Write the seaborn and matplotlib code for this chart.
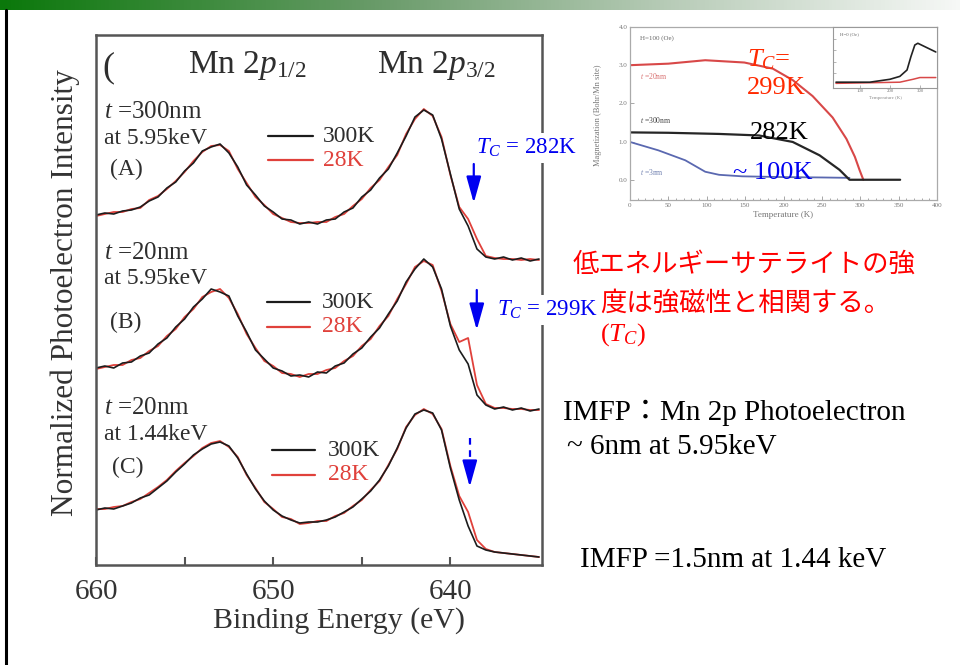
import numpy as np
import matplotlib
matplotlib.use("Agg")
import matplotlib.pyplot as plt
from matplotlib.colors import LinearSegmentedColormap
from matplotlib.lines import Line2D
import seaborn as sns

# ---- Mn 2p HAXPES spectra (binding energy in eV, intensity in arb. units incl. offsets)
energy = [660.0, 659.5, 659.0, 658.5, 658.0, 657.5, 657.0, 656.5, 656.0, 655.5,
          655.0, 654.5, 654.0, 653.5, 653.0, 652.5, 652.0, 651.5, 651.0, 650.5,
          650.0, 649.5, 649.0, 648.5, 648.0, 647.5, 647.0, 646.5, 646.0, 645.5,
          645.0, 644.5, 644.0, 643.5, 643.0, 642.5, 642.0, 641.5, 641.0, 640.5,
          640.0, 639.5, 639.0, 638.5, 638.0, 637.5, 637.0, 636.5, 636.0, 635.5,
          635.0]

a_300K = [350, 352, 351, 354, 355, 358, 364, 368, 377, 383, 394, 402, 414, 418, 421, 412, 398,
          380, 370, 359, 353, 346, 345, 341, 343, 341, 345, 346, 353, 357, 368, 375, 387, 396,
          412, 429, 448, 455, 450, 426, 391, 356, 339, 316, 308, 306, 308, 305, 307, 304, 306]
a_28K = [349, 351, 353, 353, 356, 357, 365, 369, 376, 384, 393, 404, 413, 419, 420, 414, 396,
         382, 368, 360, 351, 347, 343, 342, 342, 343, 343, 348, 351, 359, 366, 377, 385, 398,
         410, 431, 446, 456, 449, 428, 390, 358, 346, 326, 309, 307, 306, 306, 305, 306, 305]

b_300K = [197, 199, 197, 202, 203, 209, 212, 221, 227, 238, 246, 258, 266, 276, 273, 269, 249,
          233, 215, 206, 197, 194, 189, 190, 188, 193, 192, 199, 202, 211, 217, 228, 237, 251,
          264, 283, 296, 306, 298, 276, 239, 215, 201, 170, 160, 156, 158, 155, 157, 154, 156]
b_28K = [196, 198, 200, 200, 205, 207, 214, 219, 229, 236, 248, 256, 268, 273, 276, 267, 251,
         231, 217, 204, 199, 192, 191, 188, 191, 191, 195, 197, 204, 209, 219, 226, 239, 249,
         266, 281, 298, 304, 300, 274, 241, 223, 227, 180, 161, 157, 157, 156, 156, 155, 155]

c_300K = [55, 57, 56, 59, 62, 67, 70, 77, 84, 93, 101, 110, 116, 121, 123, 119, 107, 91, 76, 64,
          55, 49, 45, 42, 43, 43, 45, 48, 53, 58, 66, 74, 85, 99, 117, 137, 151, 155, 152, 135,
          97, 65, 39, 19, 15, 13, 12, 11, 10, 9, 8]
c_28K = [56, 56, 58, 59, 63, 66, 72, 78, 85, 94, 102, 109, 117, 122, 124, 118, 108, 90, 77, 63,
         56, 48, 46, 41, 42, 44, 44, 49, 52, 59, 65, 75, 84, 100, 116, 138, 150, 156, 151, 136,
         99, 69, 53, 25, 16, 13, 12, 11, 10, 9, 8]

panel_lines = [["$t$ =300nm", "at 5.95keV", "(A)"],
               ["$t$ =20nm", "at 5.95keV", "(B)"],
               ["$t$ =20nm", "at 1.44keV", "(C)"]]
legend_labels = ["300K", "28K"]
energy_ticks = [660, 650, 640]

# ---- magnetization vs temperature (inset)
t_20nm = [0, 50, 98, 149, 186, 212, 238, 264, 282, 293, 299, 304]
m_20nm = [3.0, 3.04, 3.13, 3.07, 2.91, 2.61, 2.19, 1.63, 1.07, 0.60, 0.26, 0.0]
t_300nm = [0, 50, 116, 168, 212, 247, 273, 286, 320, 352]
m_300nm = [1.24, 1.23, 1.20, 1.16, 0.99, 0.64, 0.26, 0.0, 0.0, 0.0]
t_3nm = [0, 37, 72, 98, 116, 146, 200, 250, 286]
m_3nm = [0.99, 0.77, 0.51, 0.21, 0.13, 0.09, 0.07, 0.06, 0.05]

# small zero-field panel
t_zf_black = [20, 133, 200, 233, 257, 270, 283, 293, 313, 333, 353]
v_zf_black = [0.05, 0.05, 0.10, 0.15, 0.26, 0.49, 0.69, 0.72, 0.67, 0.62, 0.57]
t_zf_red = [20, 233, 277, 300, 353]
v_zf_red = [0.03, 0.05, 0.10, 0.13, 0.13]

sns.set_theme(style="white")
plt.rcParams.update({
    "font.family": ["Liberation Serif", "Noto Sans CJK JP", "DejaVu Sans"],
    "mathtext.fontset": "custom",
    "mathtext.rm": "Liberation Serif",
    "mathtext.it": "Liberation Serif:italic",
    "mathtext.bf": "Liberation Serif:bold",
})

W, H = 960, 665
fig = plt.figure(figsize=(9.6, 6.65), dpi=100)
fig.patch.set_facecolor("white")


def fx(px):
    return px / W


def fy(py):
    return 1 - py / H


# header band
hdr = fig.add_axes([0, fy(10), 1, 10 / H])
hdr_cmap = LinearSegmentedColormap.from_list(
    "hdr", [(0.0, "#0b780b"), (0.4, "#6b9c6b"), (0.7, "#b8ccb8"), (1.0, "#f6f8f6")])
hdr.imshow(np.linspace(0, 1, 256)[None, :], aspect="auto", cmap=hdr_cmap, extent=[0, 1, 0, 1])
hdr.axis("off")
fig.add_artist(Line2D([fx(6), fx(6)], [0, fy(10)], color="black", lw=2.2,
                      transform=fig.transFigure))

# ---- main spectra axes
ax = fig.add_axes([fx(96), fy(565), fx(542) - fx(96), fy(35) - fy(565)])
ax.set_facecolor("white")
ax.set_xlim(660, 634.83)
ax.set_ylim(0, 530)

RED = "#e0413b"
BLK = "#1c1c1c"
for s300, s28 in [(a_300K, a_28K), (b_300K, b_28K), (c_300K, c_28K)]:
    sns.lineplot(x=energy, y=s28, ax=ax, color=RED, lw=1.3, errorbar=None)
    sns.lineplot(x=energy, y=s300, ax=ax, color=BLK, lw=1.2, errorbar=None)

ax.set_xticks(energy_ticks)
ax.set_xticklabels([str(v) for v in energy_ticks])
ax.set_xticks([655, 645], minor=True)
ax.set_yticks([])
ax.tick_params(axis="x", which="both", direction="in", length=6, width=1.5,
               color="#555555", labelsize=21, labelcolor="#333333", pad=10,
               bottom=True, top=False)
for sp in ax.spines.values():
    sp.set_linewidth(1.8)
    sp.set_color("#555555")


def ex(px):
    return 660 - (px - 96) / 17.73


def uy(py):
    return 565 - py


TXT = "#2e2e2e"
ax.text(ex(102), uy(76), "(", fontsize=26, color=TXT, va="baseline")
ax.text(ex(188), uy(73), "Mn 2$p_{1/2}$", fontsize=24, color=TXT, va="baseline")
ax.text(ex(377), uy(73), "Mn 2$p_{3/2}$", fontsize=24, color=TXT, va="baseline")

label_rows = [(112, 139, 169), (253, 279, 322), (408, 435, 467)]
label_x = [(104, 104, 110), (104, 104, 110), (104, 104, 112)]
for lines, rows, xs in zip(panel_lines, label_rows, label_x):
    for s, py, px in zip(lines, rows, xs):
        size = 18 if s.startswith("$t$") else 17
        ax.text(ex(px), uy(py), s, fontsize=size, color=TXT, va="center", ha="left")

legend_pos = [(268, 313, 136, 160, 323), (267, 310, 302, 327, 322), (272, 315, 450, 475, 328)]
for x0, x1, yb, yr, xt in legend_pos:
    ax.plot([ex(x0), ex(x1)], [uy(yb)] * 2, color=BLK, lw=1.6)
    ax.plot([ex(x0), ex(x1)], [uy(yr)] * 2, color=RED, lw=1.6)
    ax.text(ex(xt), uy(yb), legend_labels[0], fontsize=17, color=TXT, va="center")
    ax.text(ex(xt), uy(yr), legend_labels[1], fontsize=17, color=RED, va="center")

BLUE = "#0000f0"
head = dict(arrowstyle="-|>,head_length=1.15,head_width=0.32", color=BLUE, lw=1.6,
            mutation_scale=14, shrinkA=0, shrinkB=0)
ax.text(ex(476), uy(148), "$T_C$ = 282K", fontsize=16.5, color=BLUE, va="center",
        bbox=dict(facecolor="white", edgecolor="none", pad=3))
ax.annotate("", xy=(ex(474), uy(203)), xytext=(ex(474), uy(164)), arrowprops=head)
ax.text(ex(497), uy(310), "$T_C$ = 299K", fontsize=16.5, color=BLUE, va="center",
        bbox=dict(facecolor="white", edgecolor="none", pad=3))
ax.annotate("", xy=(ex(477), uy(330)), xytext=(ex(477), uy(290)), arrowprops=head)
ax.plot([ex(470), ex(470)], [uy(438), uy(468)], color=BLUE, lw=1.6, ls=(0, (3, 2.5)))
ax.annotate("", xy=(ex(470), uy(487)), xytext=(ex(470), uy(466)), arrowprops=head)

fig.text(fx(65), fy(293), "Normalized Photoelectron Intensity", rotation=90, fontsize=22.5,
         color="#333333", ha="center", va="center")
fig.text(fx(339), fy(621), "Binding Energy (eV)", fontsize=21.5, color="#333333",
         ha="center", va="center")

# ---- magnetization inset
ins = fig.add_axes([fx(630), fy(200), fx(937) - fx(630), fy(27) - fy(200)])
ins.set_facecolor("white")
ins.set_xlim(0, 400)
ins.set_ylim(-0.53, 4.0)
sns.lineplot(x=t_20nm, y=m_20nm, ax=ins, color="#d84848", lw=1.5, errorbar=None)
sns.lineplot(x=t_3nm, y=m_3nm, ax=ins, color="#5a68b0", lw=1.3, errorbar=None)
sns.lineplot(x=t_300nm, y=m_300nm, ax=ins, color="#262626", lw=1.6, errorbar=None)
ins.set_xticks(range(0, 401, 50))
ins.set_xticks(range(0, 401, 10), minor=True)
ins.set_yticks([0, 1, 2, 3, 4])
ins.set_yticklabels(["0.0", "1.0", "2.0", "3.0", "4.0"])
ins.tick_params(axis="both", which="both", direction="in", labelsize=5, labelcolor="#777777",
                color="#999999", length=3, width=0.6, pad=2, bottom=True, left=True)
ins.tick_params(which="minor", length=1.5)
for sp in ins.spines.values():
    sp.set_linewidth(0.9)
    sp.set_color("#aaaaaa")
fig.text(fx(598), fy(115), "Magnetization (Bohr/Mn site)", rotation=90, fontsize=6,
         color="#777777", ha="center", va="center")
fig.text(fx(783), fy(215), "Temperature (K)", fontsize=6.5, color="#777777",
         ha="center", va="center")
fig.text(fx(640), fy(38), "H=100 (Oe)", fontsize=5, color="#666666", va="center")
fig.text(fx(640), fy(76), "$t$ =20nm", fontsize=5.5, color="#d87070", va="center")
fig.text(fx(640), fy(120), "$t$ =300nm", fontsize=5.5, color="#444444", va="center")
fig.text(fx(640), fy(172), "$t$ =3nm", fontsize=5.5, color="#7080b0", va="center")

# zero-field panel
sub = fig.add_axes([fx(833), fy(88), fx(937) - fx(833), fy(27) - fy(88)])
sub.set_facecolor("white")
sub.set_xlim(10, 357)
sub.set_ylim(-0.05, 1.0)
sns.lineplot(x=t_zf_red, y=v_zf_red, ax=sub, color="#d84848", lw=1.1, errorbar=None)
sns.lineplot(x=t_zf_black, y=v_zf_black, ax=sub, color="#222222", lw=1.2, errorbar=None)
sub.set_xticks([100, 200, 300])
sub.set_yticks([0.2, 0.4, 0.6, 0.8])
sub.set_yticklabels([])
sub.tick_params(axis="both", direction="in", labelsize=3.5, labelcolor="#777777",
                color="#999999", length=2, width=0.5, pad=1, bottom=True, left=True)
for sp in sub.spines.values():
    sp.set_linewidth(0.8)
    sp.set_color("#999999")
fig.text(fx(840), fy(34), "H=0 (Oe)", fontsize=3.5, color="#666666", va="center")
fig.text(fx(885), fy(98), "Temperature (K)", fontsize=3.5, color="#888888",
         ha="center", va="center")

# ---- Tc labels over the inset
fig.text(fx(747), fy(60), "$T_C$=", fontsize=19, color="#ff2a00", va="center")
fig.text(fx(747), fy(88), "299K", fontsize=19, color="#ff2a00", va="center")
fig.text(fx(750), fy(133), "282K", fontsize=19, color="black", va="center")
fig.text(fx(733), fy(173), "~ 100K", fontsize=19, color=BLUE, va="center")

# ---- explanatory notes
fig.text(fx(573), fy(264), "低エネルギーサテライトの強", fontsize=19, color="#ff0000",
         va="center", family=["Noto Sans CJK JP", "DejaVu Sans"])
fig.text(fx(600), fy(303), "度は強磁性と相関する。", fontsize=19, color="#ff0000",
         va="center", family=["Noto Sans CJK JP", "DejaVu Sans"])
fig.text(fx(600), fy(335), "$(T_C)$", fontsize=19, color="#ff0000", va="center")
fig.text(fx(563), fy(413), "IMFP：Mn 2p Photoelectron", fontsize=21, color="black",
         va="center", family=["Liberation Serif", "Noto Sans CJK JP"])
fig.text(fx(567), fy(447), "~ 6nm at 5.95keV", fontsize=21, color="black", va="center")
fig.text(fx(580), fy(560), "IMFP =1.5nm at 1.44 keV", fontsize=21, color="black",
         va="center")

fig.savefig("out.png", dpi=100, facecolor="white")
